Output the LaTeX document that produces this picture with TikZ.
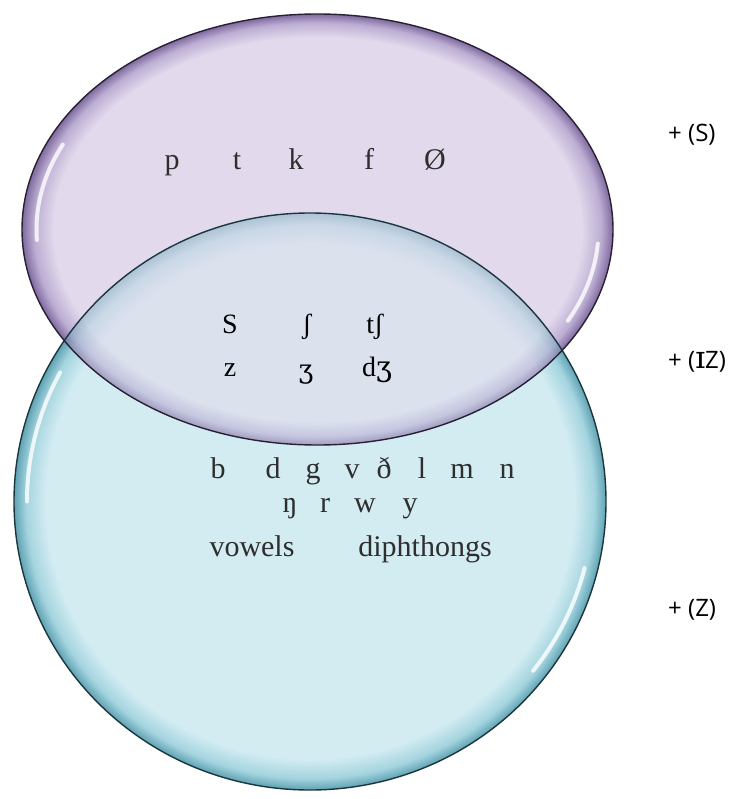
\documentclass[tikz,border=0pt]{standalone}
\usepackage{fontspec}
\setmainfont{Liberation Serif}
\newfontfamily\labfont{Open Sans}
\newfontfamily\ipafont{DejaVu Serif}
\definecolor{pIn}{HTML}{E2DAEC}
\definecolor{pMid}{HTML}{BCADD3}
\definecolor{pEdge}{HTML}{7E6A9E}
\definecolor{pLine}{HTML}{2A2035}
\definecolor{bIn}{HTML}{D3ECF2}
\definecolor{bMid}{HTML}{A4D4DF}
\definecolor{bEdge}{HTML}{5FA2B2}
\definecolor{bLine}{HTML}{1C3640}
\definecolor{txtgray}{HTML}{2E2E2E}
\pgfdeclareradialshading{purpleball}{\pgfpoint{0bp}{0bp}}{color(0bp)=(pIn); color(22.3bp)=(pIn); color(24bp)=(pMid); color(25bp)=(pEdge); color(50bp)=(pEdge)}
\pgfdeclareradialshading{blueball}{\pgfpoint{0bp}{0bp}}{color(0bp)=(bIn); color(22.3bp)=(bIn); color(24bp)=(bMid); color(25bp)=(bEdge); color(50bp)=(bEdge)}
\tikzset{
  phon/.style={font=\fontsize{30}{32}\selectfont, text=txtgray, inner sep=0pt, anchor=base},
  mid/.style={font=\fontsize{28}{30}\selectfont, text=black, inner sep=0pt, anchor=base},
  suffix/.style={font=\labfont\fontsize{24}{26}\selectfont, text=black, inner sep=0pt, anchor=base west},
  gloss/.style={white, line cap=round, opacity=0.8, line width=4pt}
}
\begin{document}
\begin{tikzpicture}[x=1pt,y=-1pt]
\useasboundingbox (0,0) rectangle (730,799);
% purple ellipse
\shade[shading=purpleball] (317.5,229.5) ellipse [x radius=295.5pt, y radius=215.5pt];
% blue circle
\shade[shading=blueball] (310,501.5) ellipse [x radius=296pt, y radius=288.5pt];
% overlap: purple over blue
\begin{scope}
  \clip (310,501.5) ellipse [x radius=296pt, y radius=288.5pt];
  \shade[shading=purpleball, opacity=0.6] (317.5,229.5) ellipse [x radius=295.5pt, y radius=215.5pt];
\end{scope}
% gloss highlights
\coordinate (pc) at (317.5,229.5);
\coordinate (bc) at (310,501.5);
\draw[gloss] (pc) ++(155:281pt and 201pt) arc [start angle=155, end angle=183, x radius=281pt, y radius=201pt];
\draw[gloss] (pc) ++(333:281pt and 201pt) arc [start angle=333, end angle=356, x radius=281pt, y radius=201pt];
\draw[gloss] (bc) ++(152:283pt and 275pt) arc [start angle=152, end angle=180, x radius=283pt, y radius=275pt];
\draw[gloss] (bc) ++(322:283pt and 275pt) arc [start angle=322, end angle=346, x radius=283pt, y radius=275pt];
% outlines
\draw[bLine, line width=1.4pt] (bc) ellipse [x radius=296pt, y radius=288.5pt];
\draw[pLine, line width=1.4pt] (pc) ellipse [x radius=295.5pt, y radius=215.5pt];
% top row
\node[phon] (p) at (172,170) {p};
\node[phon] (t) at (237,170) {t};
\node[phon] (k) at (296,170) {k};
\node[phon] (f) at (369,170) {f};
\node[phon] (null) at (435,170) {Ø};
% middle rows
\node[mid] (s) at (230,333) {S};
\node[mid] (sh) at (307,333) {ʃ};
\node[mid] (tsh) at (375,333) {tʃ};
\node[mid] (z) at (230,376) {z};
\node[mid, font=\ipafont\fontsize{26}{28}\selectfont] (zh) at (306,378) {ʒ};
\node[mid] (dzh) at (377,376) {d\ipafont ʒ};
% lower rows
\node[phon] (b) at (218,478) {b};
\node[phon] (d) at (273,478) {d};
\node[phon] (g) at (313,478) {g};
\node[phon] (v) at (352,478) {v};
\node[phon] (dh) at (384,478) {ð};
\node[phon] (l) at (422,478) {l};
\node[phon] (m) at (462,478) {m};
\node[phon] (n) at (507,478) {n};
\node[phon] (ng) at (290,512) {ŋ};
\node[phon] (r) at (325,512) {r};
\node[phon] (w) at (365,512) {w};
\node[phon] (y) at (410,512) {y};
\node[phon] (vow) at (252,556) {vowels};
\node[phon] (diph) at (425,556) {diphthongs};
% suffixes
\node[suffix] (sufs) at (668,142) {+ (S)};
\node[suffix] (sufiz) at (668,368) {+ ({\ipafont\fontsize{31}{32}\selectfont ɪ}Z)};
\node[suffix] (sufz) at (668,616) {+ (Z)};
\end{tikzpicture}
\end{document}
